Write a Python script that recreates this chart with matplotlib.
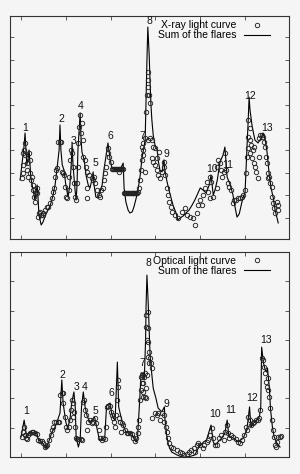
import matplotlib
matplotlib.use('Agg')
import matplotlib.pyplot as plt

plt.rcParams['font.family'] = ['Liberation Sans', 'DejaVu Sans']

# ---- X-ray panel -------------------------------------------------------
xray_fit_t = [-0.2, 0.2, 0.7, 0.9, 1.1, 1.3, 1.6, 1.8, 2.0, 2.2, 2.7, 3.1, 3.4, 3.6, 3.8, 4.0,
              4.5, 4.9, 5.4, 5.8, 6.5, 7.1, 7.6, 8.0, 8.5, 8.7, 8.9, 9.2, 9.6, 10.0, 10.5,
              10.9, 11.2, 11.4, 11.6, 12.1, 12.3, 12.5, 12.7, 13.2, 13.4, 13.6, 14.1, 14.5,
              15.0, 15.4, 15.8, 16.1, 16.3, 16.7, 17.2, 17.6, 18.1, 18.5, 19.0, 19.4, 19.9,
              20.3, 21.2, 22.1, 22.5, 22.8, 23.0, 23.4, 23.9, 24.3, 24.8, 25.2, 25.7, 26.1,
              26.6, 27.0, 27.5, 27.7, 27.9, 28.1, 28.3, 28.6, 28.8, 29.0, 29.2, 29.5, 29.9,
              30.4, 30.6, 31.0, 31.5, 31.7, 31.9, 32.1, 32.6, 33.3, 33.9, 34.6, 35.0, 35.5,
              36.2, 36.8, 37.5, 38.2, 38.8, 39.5, 40.0, 40.6, 41.3, 42.0, 42.4, 42.9, 43.3,
              43.8, 44.4, 45.1, 45.5, 46.0, 46.7, 47.3, 47.8, 48.2, 48.7, 49.3, 50.0, 50.2,
              50.4, 50.7, 50.9, 51.1, 51.6, 52.2, 52.9, 53.6, 54.0, 54.5, 54.9, 55.4, 55.8,
              56.3, 56.7, 57.4]
xray_fit = [2.68, 3.35, 4.23, 4.76, 4.01, 3.35, 3.65, 4.01, 3.35, 2.77, 2.24, 1.80, 2.15, 2.46,
            1.88, 1.13, 0.69, 0.82, 1.09, 1.27, 1.53, 1.97, 2.46, 3.12, 4.01, 5.12, 4.01, 3.35,
            3.12, 2.46, 1.93, 2.46, 3.35, 4.32, 3.35, 2.15, 1.80, 2.46, 4.01, 5.65, 4.45, 3.92,
            3.57, 2.90, 2.46, 2.33, 2.68, 3.04, 2.46, 1.93, 1.88, 2.15, 2.46, 3.12, 3.79, 4.32,
            3.57, 3.21, 3.12, 3.12, 3.30, 3.43, 2.33, 1.71, 1.35, 1.22, 1.27, 1.49, 1.88, 2.24,
            2.90, 3.65, 4.23, 4.45, 6.22, 7.99, 9.45, 8.21, 7.02, 6.00, 5.34, 4.67, 4.23, 4.01,
            3.57, 3.12, 3.04, 3.35, 3.57, 3.12, 2.59, 2.02, 1.58, 1.22, 0.91, 1.00, 1.09, 1.22,
            1.35, 1.58, 1.80, 2.11, 2.33, 2.24, 2.11, 2.46, 2.90, 2.02, 2.24, 2.68, 3.48, 3.79,
            4.14, 2.81, 2.46, 2.02, 1.44, 1.04, 1.18, 1.71, 2.15, 3.12, 4.01, 5.34, 6.35, 5.78,
            5.03, 4.45, 4.32, 4.54, 4.76, 4.45, 3.92, 2.90, 2.33, 1.88, 1.35, 0.78]

xray_obs_t = [0.2, 0.4, 0.5, 0.5, 0.7, 0.9, 1.0, 1.3, 1.4, 1.6, 1.8, 2.0, 2.0, 2.2, 2.4, 2.6,
              2.7, 3.0, 3.1, 3.4, 3.5, 3.6, 3.9, 4.1, 4.3, 4.5, 4.8, 5.0, 5.4, 5.7, 6.1, 6.5,
              6.9, 7.1, 7.4, 7.6, 7.8, 8.0, 8.3, 8.6, 8.9, 9.1, 9.3, 9.6, 9.8, 10.0, 10.3,
              10.6, 10.8, 10.9, 11.2, 11.4, 11.5, 11.8, 12.1, 12.2, 12.4, 12.7, 12.8, 12.9,
              13.2, 13.4, 13.5, 13.8, 13.9, 14.3, 14.5, 14.8, 14.7, 14.8, 15.2, 15.8, 16.1,
              16.3, 16.5, 16.9, 17.3, 17.6, 17.8, 18.2, 18.5, 18.8, 19.0, 19.3, 19.5, 19.7,
              20.0,
              20.4, 20.6, 20.8, 21.0, 21.2, 21.4, 21.6, 21.8, 22.0, 22.2, 22.4, 22.6, 22.8,
              21.9,
              22.9, 23.1, 23.3, 23.5, 23.7, 23.9, 24.1, 24.3, 24.5, 24.7, 24.9, 25.1, 25.3,
              25.5, 25.7, 25.9, 26.1,
              26.4, 26.6, 26.7, 26.9, 27.2, 27.3, 27.7, 26.9, 27.3, 27.7, 27.9, 28.1, 28.3,
              28.4, 28.4, 28.6, 28.8, 28.4, 28.8, 29.2, 29.2, 29.5, 29.5, 29.9, 29.9, 30.4,
              30.8, 30.3, 30.6, 31.0, 31.4, 31.8, 32.0, 32.1, 32.5, 32.7, 33.0, 33.5, 33.8,
              34.4, 35.1, 35.9, 36.5, 37.0, 37.7, 38.3, 38.8, 39.2, 39.6, 40.0, 40.3, 40.7,
              41.1, 41.5, 41.8, 42.2, 42.2, 42.4, 42.9, 43.7, 43.7, 44.0, 44.4, 44.6, 44.9,
              45.2, 45.5, 45.7, 46.1, 46.4, 46.9, 47.2, 47.6, 47.9, 48.4, 48.9, 49.3, 49.6,
              49.9, 50.2, 50.4, 50.6, 50.7, 50.7, 51.0, 51.1, 51.3, 51.1, 51.5, 51.7, 51.9,
              52.1, 52.2, 52.5, 52.8, 53.1, 53.0, 53.3, 53.7, 54.1, 54.3, 54.5, 54.6, 54.8,
              55.1, 55.2, 55.4, 55.6, 56.0, 56.1, 56.3, 56.5, 56.7, 57.1, 57.3, 57.4]
xray_obs = [2.77, 2.99, 3.35, 3.88, 4.01, 4.32, 3.79, 3.43, 3.12, 2.81, 3.88, 3.57, 2.99, 2.68,
            2.81, 2.46, 2.24, 1.93, 1.71, 2.15, 2.33, 2.11, 1.04, 1.22, 1.27, 1.13, 1.22, 1.13,
            1.35, 1.49, 1.49, 1.66, 1.88, 2.15, 2.33, 2.81, 3.12, 3.21, 4.36, 4.36, 4.36, 3.04,
            2.99, 2.90, 2.37, 1.93, 1.88, 2.24, 2.81, 3.57, 4.01, 3.88, 3.26, 2.55, 1.93, 1.80,
            2.55, 3.26, 4.32, 5.03, 5.56, 4.76, 5.20, 4.45, 3.70, 3.57, 3.26, 3.04, 2.33, 1.88,
            2.90, 2.77, 2.68, 2.81, 2.55, 2.24, 2.02, 1.93, 2.24, 2.33, 2.68, 2.99, 3.26, 3.88,
            4.10, 3.70, 3.48,
            3.17, 3.16, 3.18, 3.17, 3.15, 3.17, 3.18, 3.16, 3.17, 3.17, 3.15, 3.17, 3.16,
            3.04,
            2.11, 2.10, 2.12, 2.11, 2.10, 2.11, 2.12, 2.11, 2.10, 2.11, 2.11, 2.12, 2.10,
            2.11, 2.12, 2.11, 2.13,
            2.33, 2.68, 3.12, 3.57, 4.01, 4.32, 4.54, 4.14, 3.79, 3.04, 5.69, 6.44, 7.46,
            7.11, 6.80, 6.44, 6.09, 4.45, 4.54, 4.45, 3.65, 4.14, 3.48, 4.10, 3.35, 3.65,
            3.92, 3.12, 2.90, 2.77, 3.04, 3.26, 3.48, 2.90, 2.33, 2.02, 1.71, 1.49, 1.27,
            1.13, 1.00, 1.27, 1.44, 1.13, 1.04, 1.00, 0.69, 1.22, 1.58, 1.80, 1.58, 2.02,
            2.33, 2.59, 2.15, 1.88, 2.81, 2.59, 1.93, 2.33, 3.26, 3.57, 3.43, 3.12, 2.81,
            3.04, 3.88, 3.12, 2.55, 2.37, 2.24, 1.66, 1.80, 1.80, 1.88, 1.88, 1.93, 2.02,
            2.24, 2.99, 3.70, 4.10, 4.58, 5.34, 4.98, 4.45, 4.23, 3.88, 3.65, 4.01, 3.43,
            4.14, 3.26, 3.04, 2.77, 3.70, 4.54, 4.67, 4.67, 4.58, 4.36, 4.14, 3.70, 3.43,
            2.99, 2.77, 2.81, 2.55, 2.37, 1.93, 1.66, 1.44, 1.22, 1.71, 1.58, 1.35]

xray_flare_ids = ['1', '2', '3', '4', '5', '6', '7', '8', '9', '10', '11', '12', '13']
xray_label_t = [0.9, 9.1, 11.8, 13.4, 16.5, 19.9, 27.0, 28.6, 32.4, 42.6, 46.2, 51.1, 55.0]
xray_label_y = [5.00, 5.40, 4.41, 5.96, 3.42, 4.61, 4.61, 9.72, 3.83, 3.15, 3.35, 6.40, 4.98]

# ---- Optical panel -----------------------------------------------------
opt_fit_t = [0.0, 0.7, 1.3, 2.0, 2.7, 3.5, 3.9, 4.6, 5.6, 6.1, 6.9, 7.6, 8.0, 8.7, 9.1, 9.4,
             10.0, 10.4, 10.9, 11.3, 11.8, 12.1, 12.3, 12.8, 13.2, 13.5, 13.9, 14.3, 14.8,
             15.4, 16.4, 16.9, 17.5, 18.0, 18.7, 19.1, 19.9, 20.2, 20.6, 21.0, 21.5, 21.8,
             22.1, 22.5, 22.8, 23.4, 23.9, 24.7, 25.1, 25.7, 26.0, 26.4, 26.8, 27.1, 27.5,
             27.8, 27.9, 28.1, 28.4, 28.8, 29.2, 29.5, 30.1, 30.6, 31.4, 32.0, 32.1, 32.5,
             32.9, 33.6, 34.8, 35.9, 37.3, 38.8, 39.6, 40.7, 41.4, 42.4, 42.9, 43.3, 44.8,
             45.5, 46.0, 46.4, 47.4, 48.5, 49.6, 50.4, 51.0, 51.3, 51.9, 52.6, 53.2, 53.5,
             53.7, 54.1, 54.5, 54.8, 55.0, 55.4, 55.7, 56.1, 56.5, 57.1, 57.8]
opt_fit = [0.68, 1.26, 0.65, 0.85, 0.82, 0.82, 0.58, 0.51, 0.31, 0.48, 0.85, 1.02, 1.19, 1.50,
           2.63, 1.84, 1.19, 0.99, 1.26, 1.84, 2.22, 1.71, 0.68, 0.34, 0.58, 1.71, 2.22, 1.71,
           1.37, 1.19, 1.37, 1.02, 0.58, 0.58, 0.68, 1.77, 1.84, 1.50, 1.33, 1.26, 3.24, 1.71,
           1.50, 1.26, 1.09, 0.85, 0.82, 0.82, 0.65, 0.51, 0.68, 1.71, 2.87, 2.87, 2.63, 3.99,
           5.12, 6.21, 5.19, 3.48, 2.80, 2.35, 2.01, 1.67, 1.54, 1.71, 1.33, 0.75, 0.41, 0.17,
           0.07, 0.00, 0.00, 0.07, 0.31, 0.51, 0.58, 1.09, 0.51, 0.41, 0.65, 0.82, 1.26, 0.68,
           0.65, 0.51, 0.65, 0.92, 1.71, 1.02, 1.16, 1.26, 1.37, 1.71, 3.75, 3.21, 2.97, 2.90,
           3.04, 2.39, 1.60, 1.02, 0.68, 0.48, 0.34]

opt_obs_t = [0.2, 0.5, 0.7, 0.9, 1.1, 1.4, 1.6, 2.0, 2.4, 2.7, 3.1, 3.5, 3.9, 4.2, 4.6, 5.0,
             5.4, 5.6, 5.9, 6.3, 6.6, 6.9, 7.1, 7.4, 7.8, 8.2, 8.5, 8.7, 9.1, 9.3, 9.4, 9.8,
             10.0, 10.3, 10.6, 10.9, 11.2, 11.3, 11.5, 11.7, 11.9, 12.1, 12.3, 12.6, 12.9,
             13.3, 13.5, 13.9, 14.1, 14.3, 14.5, 14.7, 15.0, 15.4, 15.8, 16.1, 16.5, 16.7,
             17.3, 17.6, 18.0, 18.4, 18.7, 19.0, 19.1, 19.5, 19.9, 20.0, 20.2, 20.6, 20.8,
             21.0, 21.2, 21.4, 21.6, 21.7, 21.9, 22.1, 22.3, 22.5, 22.8, 23.2, 23.6, 23.9,
             24.3, 24.7, 25.1, 25.4, 25.7, 26.0, 26.2, 26.4, 26.6, 26.8, 26.9, 27.2, 27.3,
             27.5, 27.7, 27.3, 26.9, 26.8, 27.7, 27.8, 27.9, 28.1, 28.3, 28.6, 28.4, 28.4,
             28.4, 28.6, 28.8, 29.0, 29.2, 28.1, 27.9, 27.9, 29.2, 29.9, 30.3, 30.6, 31.0,
             31.4, 31.8, 32.0, 32.3, 32.5, 32.7, 33.0, 33.5, 34.0, 34.8, 35.5, 36.0, 36.4,
             37.0, 37.5, 37.9, 38.5, 38.8, 39.2, 39.6, 40.0, 40.5, 40.9, 41.4, 41.8, 42.2,
             42.6, 42.9, 43.3, 43.7, 44.2, 44.6, 45.2, 45.5, 45.9, 46.1, 46.4, 46.9, 47.4,
             47.9, 48.5, 48.9, 49.4, 49.8, 50.2, 50.4, 50.7, 51.0, 51.3, 51.7, 52.1, 52.5,
             52.8, 53.2, 53.3, 53.7, 53.9, 54.2, 54.5, 54.6, 54.8, 55.1, 55.2, 55.4, 55.6,
             56.0, 56.2, 56.4, 56.7, 56.9, 57.1, 57.4, 57.8, 58.0]
opt_obs = [0.69, 0.86, 1.03, 0.75, 0.65, 0.61, 0.75, 0.83, 0.86, 0.86, 0.83, 0.78, 0.58, 0.56,
           0.55, 0.49, 0.33, 0.38, 0.41, 0.58, 0.75, 0.92, 1.03, 1.20, 1.20, 1.20, 1.20, 2.12,
           2.17, 2.17, 1.83, 1.38, 1.03, 0.92, 1.03, 1.26, 1.60, 1.95, 1.83, 1.38, 1.55, 1.03,
           0.64, 0.61, 0.61, 0.61, 0.58, 1.89, 1.95, 1.60, 1.43, 0.92, 1.20, 1.26, 1.15, 1.20,
           1.32, 1.15, 0.92, 0.64, 0.58, 0.64, 0.60, 1.03, 1.72, 1.74, 1.74, 1.55, 1.43, 1.32,
           1.20, 1.03, 1.43, 1.95, 2.40, 2.63, 1.32, 1.20, 0.86, 1.15, 1.09, 0.92, 0.83, 0.81,
           0.81, 0.78, 0.64, 0.56, 0.64, 0.81, 1.03, 1.26, 1.95, 2.29, 2.52, 2.23, 2.06, 2.74,
           2.86, 2.52, 2.80, 2.74, 2.06, 4.85, 4.45, 3.99, 3.42, 3.20, 4.96, 4.39, 3.94, 3.59,
           3.37, 3.20, 3.03, 2.80, 2.34, 2.00, 1.32, 1.49, 1.43, 1.49, 1.26, 1.49, 1.43, 1.20,
           1.03, 0.86, 0.64, 0.47, 0.35, 0.30, 0.24, 0.18, 0.13, 0.07, 0.09, 0.18, 0.24, 0.30,
           0.18, 0.41, 0.47, 0.41, 0.30, 0.41, 0.52, 0.58, 0.75, 0.98, 0.64, 0.41, 0.41, 0.64,
           0.75, 0.58, 0.86, 1.09, 0.81, 0.64, 0.75, 0.69, 0.60, 0.52, 0.49, 0.58, 0.75, 1.03,
           0.92, 1.38, 1.26, 1.09, 1.15, 1.20, 1.26, 1.26, 1.32, 1.60, 3.37, 3.31, 3.08, 2.86,
           2.57, 2.40, 2.69, 2.29, 2.06, 1.66, 1.26, 0.92, 0.69, 0.41, 0.35, 0.52, 0.69, 0.69,
           0.72]

opt_flare_ids = ['1', '2', '3', '4', '5', '6', '7', '8', '9', '10', '11', '12', '13']
opt_label_t = [1.1, 9.2, 12.3, 14.3, 16.7, 20.1, 27.0, 28.4, 32.4, 43.3, 46.9, 51.6, 54.7]
opt_label_y = [1.57, 2.80, 2.39, 2.39, 1.57, 2.18, 3.21, 6.62, 1.81, 1.47, 1.60, 2.01, 4.00]


def draw_panel(ax, obs_t, obs, fit_t, fit, ids, lab_t, lab_y, name, ylim, yticks):
    ax.set_facecolor('#f5f5f5')
    ax.plot(fit_t, fit, color='black', lw=0.8, label='Sum of the flares', zorder=2)
    ax.plot(obs_t, obs, ls='none', marker='o', ms=3.2, mfc='none', mec='#222222',
            mew=0.65, label=name, zorder=3)
    for s, t, y in zip(ids, lab_t, lab_y):
        ax.text(t, y, s, fontsize=7.5, ha='center', va='center', color='#111111')
    ax.set_xlim(-2.46, 59.8)
    ax.set_ylim(*ylim)
    ax.set_xticks([0, 10, 20, 30, 40, 50])
    ax.set_yticks(yticks)
    ax.tick_params(direction='in', length=3, width=0.6, top=True, right=True,
                   labelbottom=False, labelleft=False, colors='#444444')
    for sp in ax.spines.values():
        sp.set_linewidth(0.8)
        sp.set_color('#333333')
    handles, labels = ax.get_legend_handles_labels()
    ax.legend(handles[::-1], labels[::-1], loc='upper right',
              bbox_to_anchor=(0.946, 1.0), frameon=False,
              markerfirst=False, fontsize=7.5, handlelength=2.5, handletextpad=0.7,
              labelspacing=0.0, borderaxespad=0.0)


fig = plt.figure(figsize=(3.0, 4.74), dpi=100, facecolor='#f5f5f5')
ax1 = fig.add_axes([0.0333, 0.4958, 0.93, 0.4704])
ax2 = fig.add_axes([0.0333, 0.0359, 0.93, 0.4325])

draw_panel(ax1, xray_obs_t, xray_obs, xray_fit_t, xray_fit, xray_flare_ids,
           xray_label_t, xray_label_y, 'X-ray light curve', (0.07, 9.94), range(1, 10))
draw_panel(ax2, opt_obs_t, opt_obs, opt_fit_t, opt_fit, opt_flare_ids,
           opt_label_t, opt_label_y, 'Optical light curve', (0, 7), range(1, 7))

fig.savefig('out.png', dpi=100, facecolor=fig.get_facecolor())
